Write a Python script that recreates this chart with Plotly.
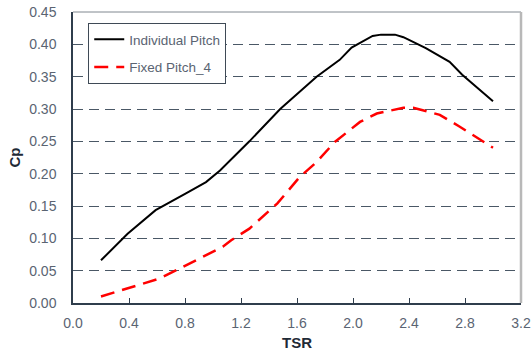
import plotly.graph_objects as go

# Individual Pitch
tsr_ip = [0.2, 0.39, 0.59, 0.69, 0.81, 0.95, 1.05, 1.26, 1.48, 1.74, 1.905, 1.99, 2.14, 2.2, 2.3, 2.36, 2.52, 2.69, 2.78, 3.0]
cp_ip = [0.066, 0.107, 0.1435, 0.156, 0.170, 0.187, 0.205, 0.250, 0.300, 0.350, 0.376, 0.395, 0.413, 0.415, 0.415, 0.411, 0.394, 0.373, 0.353, 0.312]

# Fixed Pitch_4
tsr_fp = [0.2, 0.43, 0.62, 0.74, 0.95, 1.07, 1.13, 1.26, 1.46, 1.62, 1.74, 1.87, 2.05, 2.17, 2.36, 2.43, 2.62, 2.76, 3.0]
cp_fp = [0.010, 0.025, 0.038, 0.051, 0.074, 0.087, 0.097, 0.115, 0.154, 0.195, 0.218, 0.249, 0.280, 0.293, 0.302, 0.302, 0.291, 0.273, 0.240]

x_ticks = [0.0, 0.4, 0.8, 1.2, 1.6, 2.0, 2.4, 2.8, 3.2]
x_tick_labels = ["0.0", "0.4", "0.8", "1.2", "1.6", "2.0", "2.4", "2.8", "3.2"]
y_ticks = [0.00, 0.05, 0.10, 0.15, 0.20, 0.25, 0.30, 0.35, 0.40, 0.45]
y_tick_labels = ["0.00", "0.05", "0.10", "0.15", "0.20", "0.25", "0.30", "0.35", "0.40", "0.45"]

FONT = "Liberation Sans, Arial, sans-serif"
TICK_COLOR = "#5a6472"
TITLE_COLOR = "#1f2a36"
AXIS_COLOR = "#2f3d4c"

fig = go.Figure()
fig.add_trace(go.Scatter(x=tsr_ip, y=cp_ip, mode="lines", name="Individual Pitch",
                         legendgroup="a",
                         line=dict(color="black", width=2)))
fig.add_trace(go.Scatter(x=tsr_fp, y=cp_fp, mode="lines", name="Fixed Pitch_4",
                         legendgroup="b",
                         line=dict(color="#ff0000", width=2.5, dash="14px,8px")))

fig.update_layout(
    width=531, height=352,
    margin=dict(l=73, r=10, t=12, b=49),
    paper_bgcolor="white", plot_bgcolor="white",
    font=dict(family=FONT, size=14, color=TICK_COLOR),
    showlegend=True,
    legend=dict(
        x=0.034, y=0.962, xanchor="left", yanchor="top",
        bgcolor="white", bordercolor="#3f4a56", borderwidth=1,
        font=dict(family=FONT, size=13.5, color=TICK_COLOR),
        traceorder="grouped", tracegroupgap=7,
    ),
    xaxis=dict(
        range=[0, 3.2], tickvals=x_ticks, ticktext=x_tick_labels,
        showgrid=False, zeroline=False, automargin=False,
        showline=True, linecolor=AXIS_COLOR, linewidth=1.5,
        ticks="inside", ticklen=5, tickcolor=AXIS_COLOR, tickwidth=1,
        ticklabelstandoff=6,
        tickfont=dict(family=FONT, size=14, color=TICK_COLOR),
        title=dict(text="<b>TSR</b>", standoff=8,
                   font=dict(family=FONT, size=15, color=TITLE_COLOR)),
    ),
    yaxis=dict(
        range=[0, 0.45], tickvals=y_ticks, ticktext=y_tick_labels,
        showgrid=True, gridcolor="#4a5866", gridwidth=1, griddash="10px,6px",
        zeroline=False, automargin=False,
        showline=True, linecolor=AXIS_COLOR, linewidth=1.5,
        ticks="", ticklabelstandoff=12,
        tickfont=dict(family=FONT, size=14, color=TICK_COLOR),
        title=dict(text="<b>Cp</b>", standoff=5,
                   font=dict(family=FONT, size=15, color=TITLE_COLOR)),
    ),
    shapes=[
        dict(type="line", xref="paper", yref="paper", x0=0, x1=1, y0=1, y1=1,
             line=dict(color="#808890", width=1)),
        dict(type="line", xref="paper", yref="paper", x0=1, x1=1, y0=0, y1=1,
             line=dict(color="#b8b8b8", width=2.5)),
    ],
)

fig.write_html(
    "out.html",
    config={"displayModeBar": False},
    post_script="document.body.style.margin='0';document.body.style.overflow='hidden';",
)
